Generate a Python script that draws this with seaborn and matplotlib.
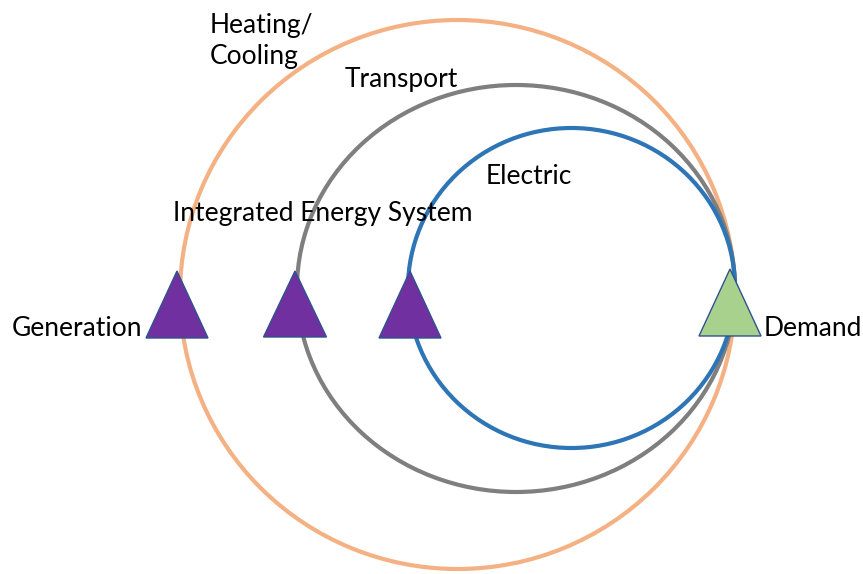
import seaborn as sns
import matplotlib.pyplot as plt
from matplotlib.patches import Ellipse

sns.set_style('white')
plt.rcParams['font.family'] = ['Lato', 'DejaVu Sans']

# Rings (pixel space of the 863x574 canvas)
ring_names = ['Heating/Cooling', 'Transport', 'Electric']
ring_cx = [457.5, 516, 571.5]
ring_cy = [294.5, 288.5, 288]
ring_rx = [277.5, 219, 163.5]
ring_ry = [274.5, 203.5, 160]
ring_colors = ['#F4B183', '#7F7F7F', '#2E75B6']

# Triangles: apex x, apex y, base y, base width
tri_x = [177, 295, 410, 730]
tri_top = [271, 271, 271, 269]
tri_base = [338, 337, 338, 336]
tri_w = [62, 63, 62, 62]
tri_colors = ['#7030A0', '#7030A0', '#7030A0', '#A9D18E']

# Labels
labels = ['Heating/\nCooling', 'Transport', 'Electric', 'Integrated Energy System',
          'Generation', 'Demand']
label_x = [210, 345, 486, 173, 12, 764]
label_y = [41, 79, 176, 214, 328, 328]

fig = plt.figure(figsize=(8.63, 5.74), dpi=100)
ax = fig.add_axes([0, 0, 1, 1])
ax.set_xlim(0, 863)
ax.set_ylim(574, 0)
ax.axis('off')

for cx, cy, rx, ry, c in zip(ring_cx, ring_cy, ring_rx, ring_ry, ring_colors):
    ax.add_patch(Ellipse((cx, cy), 2 * rx, 2 * ry, fill=False, edgecolor=c, lw=3, zorder=2))

for x, t, b, w, c in zip(tri_x, tri_top, tri_base, tri_w, tri_colors):
    ax.fill([x - w / 2, x, x + w / 2], [b, t, b], facecolor=c, edgecolor='#2F528F',
            lw=1, zorder=3)

for s, x, y in zip(labels, label_x, label_y):
    ax.text(x, y, s, ha='left', va='center', fontsize=19, color='black',
            linespacing=1.3, zorder=4)

fig.savefig('out.png', dpi=100)
